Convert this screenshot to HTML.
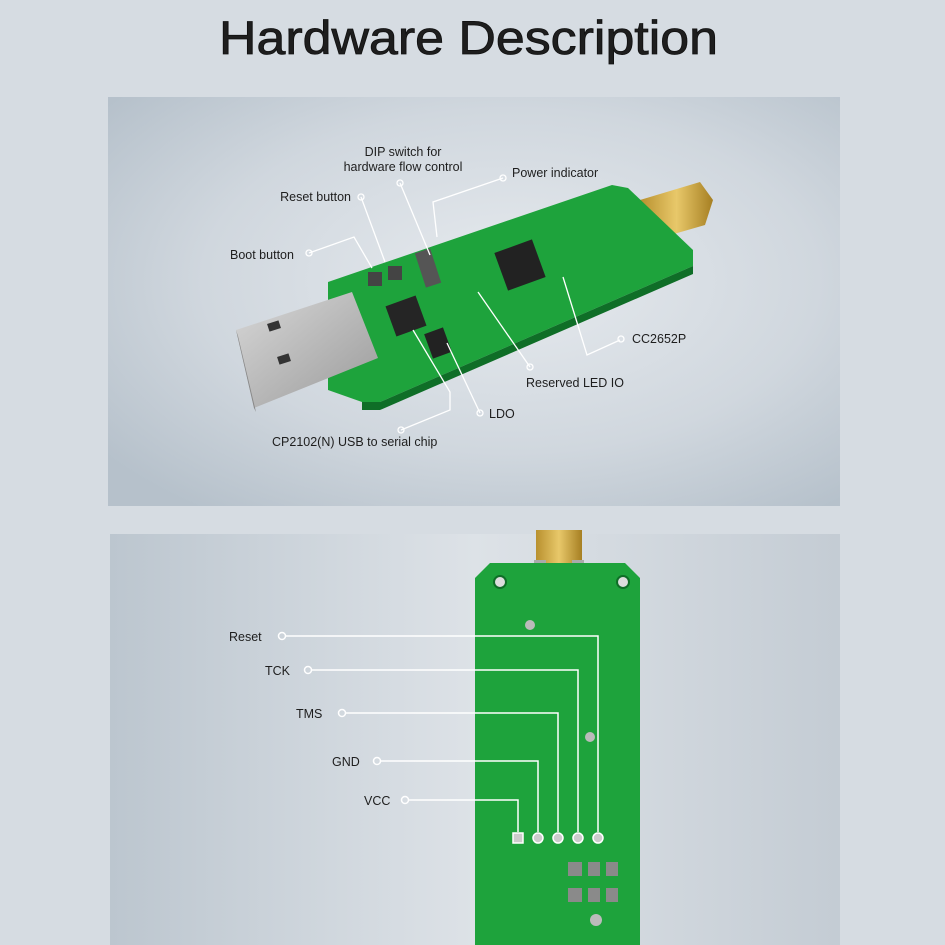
<!DOCTYPE html>
<html><head><meta charset="utf-8"><style>
html,body{margin:0;padding:0;background:#d6dce2;}
svg{display:block}
text{font-family:"Liberation Sans",sans-serif;fill:#1e1e1e}
</style></head><body>
<svg width="945" height="945" viewBox="0 0 945 945" xmlns="http://www.w3.org/2000/svg">
<defs>
<radialGradient id="pg" cx="0.55" cy="0.45" r="0.7">
<stop offset="0" stop-color="#e6eaee"/><stop offset="0.6" stop-color="#d0d7de"/><stop offset="1" stop-color="#b6c1cb"/>
</radialGradient>
<linearGradient id="pg2" x1="0" y1="0" x2="1" y2="0">
<stop offset="0" stop-color="#bcc6cf"/><stop offset="0.5" stop-color="#dde2e7"/><stop offset="1" stop-color="#c4ccd4"/>
</linearGradient>
<linearGradient id="usb" x1="0" y1="0" x2="1" y2="1">
<stop offset="0" stop-color="#d8d8d8"/><stop offset="1" stop-color="#9a9a9a"/>
</linearGradient>
<linearGradient id="gold" x1="0" y1="0" x2="1" y2="0">
<stop offset="0" stop-color="#b8902e"/><stop offset="0.5" stop-color="#e8c86a"/><stop offset="1" stop-color="#a67f22"/>
</linearGradient>
</defs>
<rect width="945" height="945" fill="#d6dce2"/>
<text x="219" y="54" font-size="47" textLength="499" lengthAdjust="spacingAndGlyphs" fill="#111" stroke="#111" stroke-width="0.8">Hardware Description</text>

<!-- top panel -->
<rect x="108" y="97" width="732" height="409" fill="url(#pg)"/>
<polygon points="640,200 700,182 713,200 705,225 660,238" fill="url(#gold)"/>
<polygon points="328,282 612,185 628,188 693,250 693,266 380,402 362,402 328,390" fill="#1ea33c"/>
<polygon points="362,402 380,402 693,266 693,274 380,410 362,410" fill="#0f6e27"/>
<rect x="500" y="245" width="40" height="40" fill="#222" transform="rotate(-20 520 265)"/>
<rect x="390" y="300" width="32" height="32" fill="#252525" transform="rotate(-20 406 316)"/>
<rect x="428" y="330" width="20" height="26" fill="#222" transform="rotate(-20 438 343)"/>
<rect x="420" y="250" width="16" height="36" fill="#555" transform="rotate(-18 428 268)"/>
<rect x="368" y="272" width="14" height="14" fill="#444"/><rect x="388" y="266" width="14" height="14" fill="#444"/>
<polygon points="236,330 352,292 378,358 254,408" fill="url(#usb)"/>
<polygon points="236,330 254,408 256,412 238,336" fill="#888"/>
<rect x="268" y="322" width="12" height="8" fill="#333" transform="rotate(-18 274 326)"/>
<rect x="278" y="355" width="12" height="8" fill="#333" transform="rotate(-18 284 359)"/>

<g stroke="#fff" stroke-width="1.3" fill="none">
<polyline points="503,178 433,202 437,237"/>
<polyline points="361,197 385,262"/>
<polyline points="400,183 430,255"/>
<polyline points="309,253 354,237 372,268"/>
<polyline points="620,340 587,355 563,277"/>
<polyline points="530,367 478,292"/>
<polyline points="480,413 447,343"/>
<polyline points="401,430 450,410 450,392 413,330"/>
</g>
<g fill="none" stroke="#fff" stroke-width="1.3">
<circle cx="503" cy="178" r="3"/><circle cx="361" cy="197" r="3"/><circle cx="400" cy="183" r="3"/>
<circle cx="309" cy="253" r="3"/><circle cx="621" cy="339" r="3"/><circle cx="530" cy="367" r="3"/>
<circle cx="480" cy="413" r="3"/><circle cx="401" cy="430" r="3"/>
</g>
<g font-size="12.5">
<text x="403" y="156" text-anchor="middle">DIP switch for</text>
<text x="403" y="171" text-anchor="middle">hardware flow control</text>
<text x="512" y="177">Power indicator</text>
<text x="351" y="201" text-anchor="end">Reset button</text>
<text x="230" y="259">Boot button</text>
<text x="632" y="343">CC2652P</text>
<text x="526" y="387">Reserved LED IO</text>
<text x="489" y="418">LDO</text>
<text x="272" y="446">CP2102(N) USB to serial chip</text>
</g>

<!-- bottom panel -->
<rect x="110" y="534" width="730" height="411" fill="url(#pg2)"/>
<rect x="536" y="530" width="46" height="34" fill="url(#gold)"/>
<rect x="534" y="560" width="12" height="28" fill="#aaa"/><rect x="572" y="560" width="12" height="28" fill="#aaa"/>
<polygon points="490,563 625,563 640,578 640,945 475,945 475,578" fill="#1ea33c"/>
<circle cx="500" cy="582" r="6" fill="#ddd" stroke="#0f6e27" stroke-width="2"/>
<circle cx="623" cy="582" r="6" fill="#ddd" stroke="#0f6e27" stroke-width="2"/>
<circle cx="530" cy="625" r="5" fill="#bbb"/><circle cx="590" cy="737" r="5" fill="#bbb"/>
<g fill="#8a8a8a"><rect x="568" y="862" width="14" height="14"/><rect x="588" y="862" width="12" height="14"/><rect x="606" y="862" width="12" height="14"/>
<rect x="568" y="888" width="14" height="14"/><rect x="588" y="888" width="12" height="14"/><rect x="606" y="888" width="12" height="14"/></g>
<circle cx="596" cy="920" r="6" fill="#bbb"/>
<g stroke="#fff" stroke-width="1.5" fill="none">
<polyline points="285,636 598,636 598,832"/>
<polyline points="311,670 578,670 578,832"/>
<polyline points="345,713 558,713 558,832"/>
<polyline points="380,761 538,761 538,832"/>
<polyline points="408,800 518,800 518,832"/>
<circle cx="282" cy="636" r="3.5"/><circle cx="308" cy="670" r="3.5"/><circle cx="342" cy="713" r="3.5"/>
<circle cx="377" cy="761" r="3.5"/><circle cx="405" cy="800" r="3.5"/>
</g>
<g fill="#ccc" stroke="#fff" stroke-width="1.5">
<rect x="513" y="833" width="10" height="10"/><circle cx="538" cy="838" r="5"/><circle cx="558" cy="838" r="5"/><circle cx="578" cy="838" r="5"/><circle cx="598" cy="838" r="5"/>
</g>
<g font-size="12.5">
<text x="229" y="641">Reset</text>
<text x="265" y="675">TCK</text>
<text x="296" y="718">TMS</text>
<text x="332" y="766">GND</text>
<text x="364" y="805">VCC</text>
</g>
</svg>
</body></html>
